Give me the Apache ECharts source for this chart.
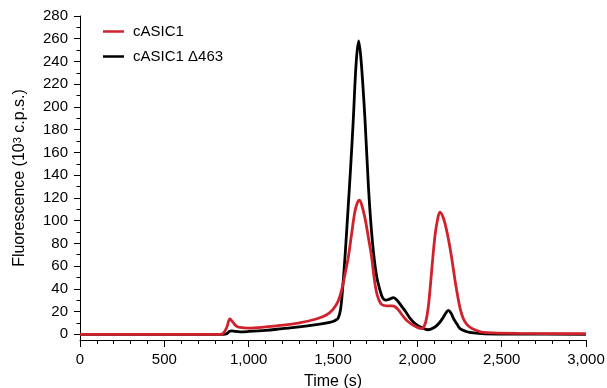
<!DOCTYPE html>
<html>
<head>
<meta charset="utf-8">
<script src="https://cdn.jsdelivr.net/npm/echarts@6/dist/echarts.min.js"></script>
<style>
  html, body { margin: 0; padding: 0; background: #fff; }
  #chart { width: 607px; height: 388px; }
</style>
</head>
<body>
<div id="chart"></div>
<script>
// time (s) and fluorescence (10^3 c.p.s.)
const wtTime = [0, 830, 850, 870, 889, 905, 925, 950, 1000, 1100, 1200, 1300, 1400, 1460, 1500, 1530, 1551, 1570, 1591, 1610, 1630, 1645, 1656, 1670, 1690, 1710, 1729, 1742, 1755, 1770, 1790, 1820, 1850, 1870, 1890, 1910, 1936, 1965, 1996, 2025, 2035, 2050, 2065, 2078, 2091, 2105, 2120, 2134, 2150, 2165, 2180, 2195, 2210, 2225, 2240, 2255, 2272, 2292, 2320, 2350, 2381, 2450, 2600, 3000]
const wtValue = [0, 0, 1, 6, 13.5, 11, 7.5, 6, 5.5, 6.5, 8, 10, 13.5, 17, 22, 29, 38.7, 52, 68, 88, 108, 116, 118, 114, 102, 85, 68, 52, 39, 31, 26, 25, 25, 24, 21, 17, 12.3, 9, 6.4, 5, 5.8, 11, 24, 44, 66, 87, 101, 107.5, 104, 97, 87, 75, 61, 46, 33, 22, 14, 9, 5.5, 3.5, 2, 1.2, 0.8, 0.5]

const delTime = [0, 850, 870, 885, 900, 920, 950, 1000, 1100, 1200, 1300, 1400, 1480, 1510, 1530, 1545, 1558, 1572, 1590, 1605, 1620, 1637, 1652, 1667, 1690, 1710, 1725, 1743, 1760, 1779, 1795, 1814, 1835, 1858, 1880, 1910, 1935, 1957, 1990, 2025, 2065, 2100, 2130, 2154, 2170, 2184, 2200, 2214, 2235, 2253, 2290, 2332, 2400, 2600, 3000]
const delValue = [0, 0, 0.5, 2.5, 3, 2.5, 2.2, 2.5, 3.5, 5, 6.5, 8.5, 10.5, 12, 14, 22, 42, 70, 112, 148, 188, 238, 258, 240, 188, 130, 97, 68, 50, 38.7, 32, 30, 31, 32.3, 30, 24, 19, 14, 9, 5.9, 4, 6, 10, 15, 19, 21, 18.5, 14, 9, 5, 2.5, 1.2, 0.5, 0.2, 0]

const seriesNames = ['cASIC1', 'cASIC1 \u0394463']
const yTicks = [0, 20, 40, 60, 80, 100, 120, 140, 160, 180, 200, 220, 240, 260, 280]
const yMinorTicks = [10, 30, 50, 70, 90, 110, 130, 150, 170, 190, 210, 230, 250, 270]

const zip = (xs, ys) => xs.map((x, i) => [x, ys[i]])
const font = 'Liberation Sans, Arial, Helvetica, sans-serif'
const black = '#000'

const chart = echarts.init(document.getElementById('chart'), null, { renderer: 'canvas' })

const yBase = {
  type: 'value',
  min: -5,
  max: 280,
  position: 'left',
  splitLine: { show: false },
}

chart.setOption({
  animation: false,
  backgroundColor: '#fff',
  textStyle: { fontFamily: font, color: black },
  grid: { left: 80, right: 21, top: 16, bottom: 48, containLabel: false, outerBoundsMode: 'none' },
  legend: {
    orient: 'vertical',
    left: 103,
    top: 23,
    padding: 0,
    itemWidth: 21,
    itemHeight: 2.5,
    itemGap: 8,
    icon: 'rect',
    data: seriesNames,
    textStyle: { fontFamily: font, fontSize: 15, color: black, lineHeight: 17, padding: [0, 0, 0, 4] },
  },
  xAxis: {
    type: 'value',
    min: 0,
    max: 3000,
    interval: 500,
    name: 'Time (s)',
    nameLocation: 'middle',
    nameGap: 34,
    nameTextStyle: { fontFamily: font, fontSize: 16, color: black },
    axisLine: { onZero: false, lineStyle: { color: black, width: 1 } },
    axisTick: { show: true, length: 7, lineStyle: { color: black } },
    minorTick: { show: true, splitNumber: 5, length: 4, lineStyle: { color: black } },
    splitLine: { show: false },
    axisLabel: {
      fontFamily: font,
      fontSize: 15,
      color: black,
      margin: 12,
      formatter: (v) => v.toLocaleString('en-US'),
    },
  },
  yAxis: [
    {
      ...yBase,
      name: 'Fluorescence (10{sup|3} c.p.s.)',
      nameLocation: 'middle',
      nameGap: 52,
      nameTextStyle: {
        fontFamily: font,
        fontSize: 16,
        color: black,
        rich: { sup: { fontFamily: font, fontSize: 11, color: black, verticalAlign: 'top', lineHeight: 10, padding: [0, 0, 7, 0] } },
      },
      axisLine: { show: true, lineStyle: { color: black, width: 1 } },
      axisTick: { show: true, length: 6, customValues: yTicks, lineStyle: { color: black } },
      axisLabel: { fontFamily: font, fontSize: 15, color: black, margin: 12, customValues: yTicks },
    },
    {
      ...yBase,
      axisLine: { show: false },
      axisTick: { show: true, length: 3.5, customValues: yMinorTicks, lineStyle: { color: black } },
      axisLabel: { show: false },
    },
  ],
  series: [
    {
      name: seriesNames[1],
      type: 'line',
      data: zip(delTime, delValue),
      showSymbol: false,
      smooth: 0.35,
      lineStyle: { color: '#000', width: 2.8 },
      itemStyle: { color: '#000' },
      z: 2,
    },
    {
      name: seriesNames[0],
      type: 'line',
      data: zip(wtTime, wtValue),
      showSymbol: false,
      smooth: 0.35,
      lineStyle: { color: '#d0222c', width: 2.8 },
      itemStyle: { color: '#d0222c' },
      z: 3,
    },
  ],
})
</script>
</body>
</html>
